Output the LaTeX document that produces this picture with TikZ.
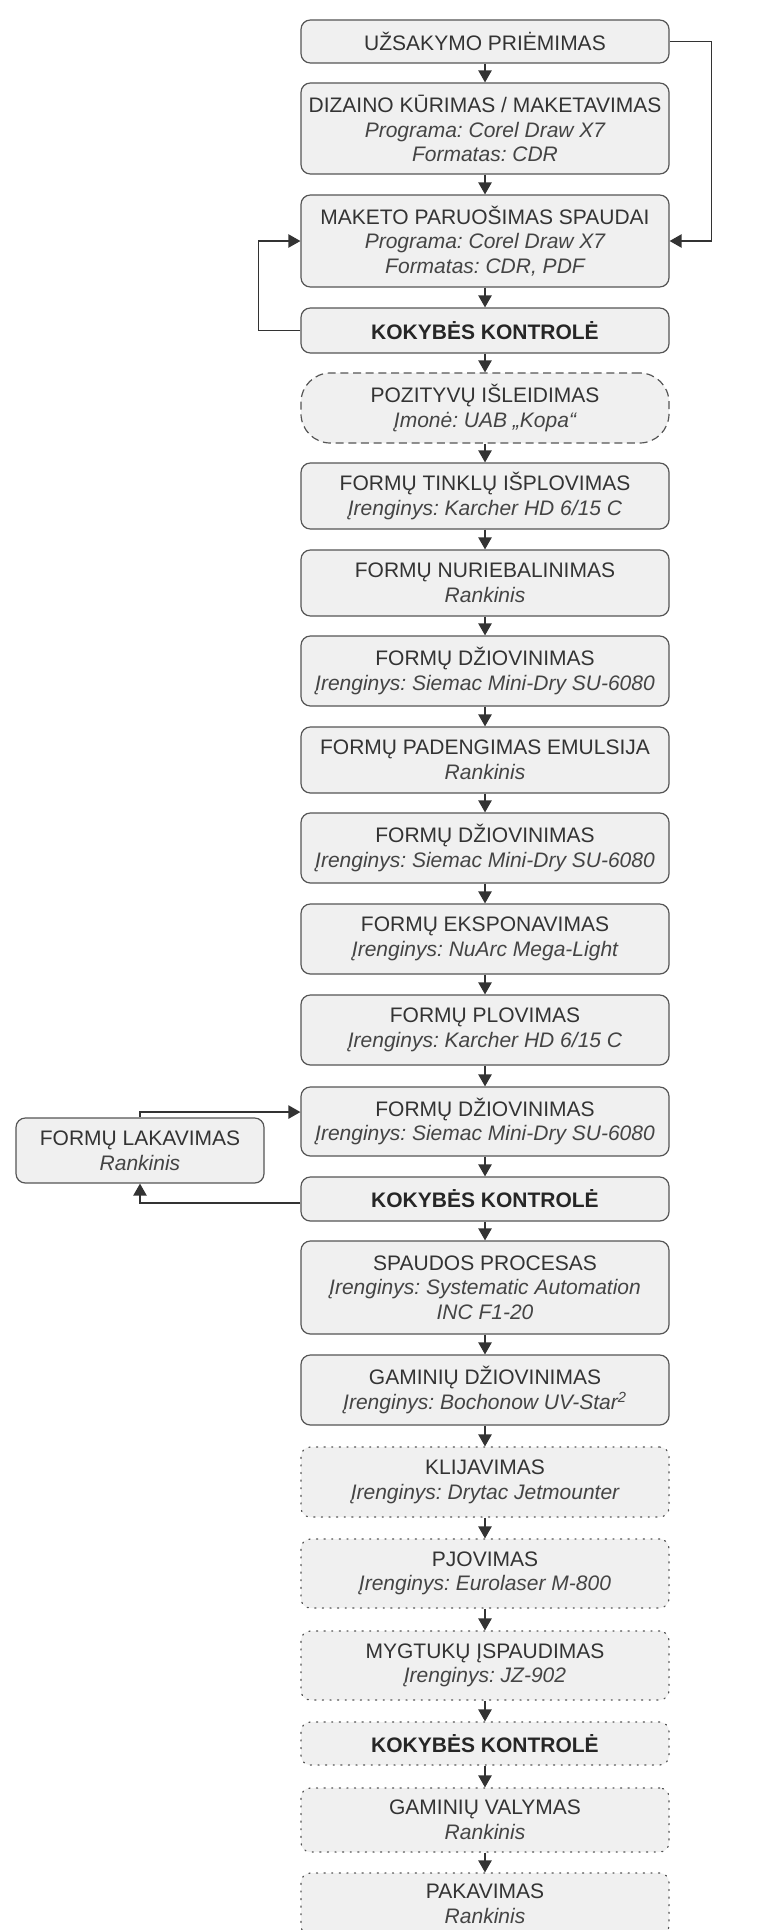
\documentclass[tikz,border=0pt]{standalone}
\usepackage{fontspec}
\setmainfont{Liberation Sans}
\usetikzlibrary{arrows.meta}
\definecolor{boxf}{HTML}{F0F0F0}
\definecolor{bordc}{HTML}{555555}
\definecolor{txtc}{HTML}{333333}
\definecolor{subc}{HTML}{444444}
\definecolor{arrc}{HTML}{333333}
\newcommand{\sub}[1]{{\color{subc}\itshape #1}}
\frenchspacing
\begin{document}
\begin{tikzpicture}[x=0.75pt,y=-0.75pt,
  box/.style={draw=bordc, fill=boxf, rounded corners=7pt, line width=0.9pt,
    minimum width=276pt, inner sep=0pt, align=center, text=txtc,
    font=\fontsize{15.75pt}{18.5pt}\selectfont},
  dbox/.style={box, dash pattern=on 6pt off 3.5pt, rounded corners=22pt},
  obox/.style={box, dash pattern=on 0.9pt off 4.8pt, line cap=round},
  bh/.style={minimum height=#1*0.75pt},
  arr/.style={draw=arrc, line width=1pt, -{Triangle[length=9pt,width=10pt]}},
  kk/.style={font=\fontsize{15.75pt}{18.5pt}\selectfont\bfseries, text=black!85}
]
\useasboundingbox (0,0) rectangle (782,1930);

\node[box,bh=43] (n1) at (485,41.5) {UŽSAKYMO PRIĖMIMAS};
\node[box,bh=91] (n2) at (485,128.5) {DIZAINO KŪRIMAS / MAKETAVIMAS\\\sub{Programa: Corel Draw X7}\\\sub{Formatas: CDR}};
\node[box,bh=92] (n3) at (485,241) {MAKETO PARUOŠIMAS SPAUDAI\\\sub{Programa: Corel Draw X7}\\\sub{Formatas: CDR, PDF}};
\node[box,bh=45,kk] (n4) at (485,330.5) {KOKYBĖS KONTROLĖ};
\node[dbox,bh=70] (n5) at (485,408) {POZITYVŲ IŠLEIDIMAS\\\sub{Įmonė: UAB „Kopa“}};
\node[box,bh=66] (n6) at (485,496) {FORMŲ TINKLŲ IŠPLOVIMAS\\\sub{Įrenginys: Karcher HD 6/15 C}};
\node[box,bh=66] (n7) at (485,583) {FORMŲ NURIEBALINIMAS\\\sub{Rankinis}};
\node[box,bh=70] (n8) at (485,671) {FORMŲ DŽIOVINIMAS\\\sub{Įrenginys: Siemac Mini-Dry SU-6080}};
\node[box,bh=66] (n9) at (485,760) {FORMŲ PADENGIMAS EMULSIJA\\\sub{Rankinis}};
\node[box,bh=70] (n10) at (485,848) {FORMŲ DŽIOVINIMAS\\\sub{Įrenginys: Siemac Mini-Dry SU-6080}};
\node[box,bh=70] (n11) at (485,939) {FORMŲ EKSPONAVIMAS\\\sub{Įrenginys: NuArc Mega-Light}};
\node[box,bh=70] (n12) at (485,1030) {FORMŲ PLOVIMAS\\\sub{Įrenginys: Karcher HD 6/15 C}};
\node[box,bh=69] (n13) at (485,1121.5) {FORMŲ DŽIOVINIMAS\\\sub{Įrenginys: Siemac Mini-Dry SU-6080}};
\node[box,bh=44,kk] (n14) at (485,1199) {KOKYBĖS KONTROLĖ};
\node[box,bh=93] (n15) at (485,1287.5) {SPAUDOS PROCESAS\\\sub{Įrenginys: Systematic Automation}\\\sub{INC F1-20}};
\node[box,bh=70] (n16) at (485,1390) {GAMINIŲ DŽIOVINIMAS\\\sub{Įrenginys: Bochonow UV-Star\textsuperscript{2}}};
\node[obox,bh=70] (n17) at (485,1482) {KLIJAVIMAS\\\sub{Įrenginys: Drytac Jetmounter}};
\node[obox,bh=69] (n18) at (485,1573.5) {PJOVIMAS\\\sub{Įrenginys: Eurolaser M-800}};
\node[obox,bh=69] (n19) at (485,1665.5) {MYGTUKŲ ĮSPAUDIMAS\\\sub{Įrenginys: JZ-902}};
\node[obox,bh=43,kk] (n20) at (485,1743.5) {KOKYBĖS KONTROLĖ};
\node[obox,bh=64] (n21) at (485,1820) {GAMINIŲ VALYMAS\\\sub{Rankinis}};
\node[obox,bh=62] (n22) at (485,1904) {PAKAVIMAS\\\sub{Rankinis}};

\node[box,bh=65,minimum width=186pt] (lak) at (140,1150.5) {FORMŲ LAKAVIMAS\\\sub{Rankinis}};

\foreach \a/\b in {n1/n2,n2/n3,n3/n4,n4/n5,n5/n6,n6/n7,n7/n8,n8/n9,n9/n10,n10/n11,n11/n12,n12/n13,n13/n14,n14/n15,n15/n16,n16/n17,n17/n18,n18/n19,n19/n20,n20/n21,n21/n22}
  \draw[arr] (\a.south) -- (\b.north);

\draw[arr] (n1.east) -- ++(42,0) |- (n3.east);
\draw[arr] (n4.west) -- ++(-42,0) |- (n3.west);
\draw[arr] (lak.north) |- ([yshift=7.1pt]n13.west);
\draw[arr] ([yshift=-3pt]n14.west) -| (lak.south);
\end{tikzpicture}
\end{document}
